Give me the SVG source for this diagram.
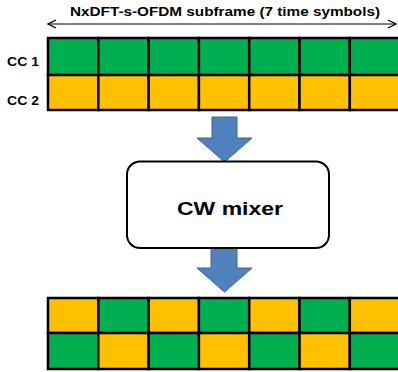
<svg xmlns="http://www.w3.org/2000/svg" width="398" height="372" viewBox="0 0 398 372">
<style>
.g{fill:#00B050;stroke:#000;stroke-width:2.5}
.y{fill:#FFC000;stroke:#000;stroke-width:2.5}
.lbl{font-family:"Liberation Sans",Arial,sans-serif;font-weight:bold;fill:#000}
.barrow{fill:#4F81BD;stroke:#3A6597;stroke-width:1}
</style>
<defs>
<marker id="open" viewBox="0 0 10 10" refX="9" refY="5" markerWidth="10" markerHeight="10" markerUnits="userSpaceOnUse" orient="auto-start-reverse">
<path d="M1,1 L9,5 L1,9" fill="none" stroke="#000" stroke-width="1.2"/>
</marker>
</defs>
<rect width="398" height="372" fill="#fff"/>
<g id="title">
<text class="lbl" x="70" y="16" font-size="13" textLength="310" lengthAdjust="spacingAndGlyphs">NxDFT-s-OFDM subframe (7 time symbols)</text>
<line x1="48" y1="24" x2="396" y2="24" stroke="#000" stroke-width="1" marker-start="url(#open)" marker-end="url(#open)"/>
</g>
<g id="cc1">
<text class="lbl" x="7" y="66" font-size="13" textLength="32" lengthAdjust="spacingAndGlyphs">CC 1</text>
<rect class="g" x="48" y="38" width="50.3" height="37"/>
<rect class="g" x="98.3" y="38" width="50.3" height="37"/>
<rect class="g" x="148.6" y="38" width="50.3" height="37"/>
<rect class="g" x="198.9" y="38" width="50.3" height="37"/>
<rect class="g" x="249.2" y="38" width="50.3" height="37"/>
<rect class="g" x="299.5" y="38" width="50.3" height="37"/>
<rect class="g" x="349.8" y="38" width="50.3" height="37"/>
</g>
<g id="cc2">
<text class="lbl" x="7" y="105" font-size="13" textLength="32" lengthAdjust="spacingAndGlyphs">CC 2</text>
<rect class="y" x="48" y="75" width="50.3" height="35"/>
<rect class="y" x="98.3" y="75" width="50.3" height="35"/>
<rect class="y" x="148.6" y="75" width="50.3" height="35"/>
<rect class="y" x="198.9" y="75" width="50.3" height="35"/>
<rect class="y" x="249.2" y="75" width="50.3" height="35"/>
<rect class="y" x="299.5" y="75" width="50.3" height="35"/>
<rect class="y" x="349.8" y="75" width="50.3" height="35"/>
</g>
<g id="connectors">
<path class="barrow" d="M212,117 H237 V138 H252 L224.5,162 L197,138 H212 Z"/>
<path class="barrow" d="M211,248 H237 V268 H252 L224.5,292 L197,268 H211 Z"/>
</g>
<g id="mixer">
<rect x="127" y="161.5" width="202" height="86.5" rx="13" fill="#fff" stroke="#000" stroke-width="2"/>
<text class="lbl" x="177" y="215" font-size="18" textLength="106" lengthAdjust="spacingAndGlyphs">CW mixer</text>
</g>
<g id="out1">
<rect class="y" x="48" y="298" width="50.3" height="35"/>
<rect class="g" x="98.3" y="298" width="50.3" height="35"/>
<rect class="y" x="148.6" y="298" width="50.3" height="35"/>
<rect class="g" x="198.9" y="298" width="50.3" height="35"/>
<rect class="y" x="249.2" y="298" width="50.3" height="35"/>
<rect class="g" x="299.5" y="298" width="50.3" height="35"/>
<rect class="y" x="349.8" y="298" width="50.3" height="35"/>
</g>
<g id="out2">
<rect class="g" x="48" y="333" width="50.3" height="36"/>
<rect class="y" x="98.3" y="333" width="50.3" height="36"/>
<rect class="g" x="148.6" y="333" width="50.3" height="36"/>
<rect class="y" x="198.9" y="333" width="50.3" height="36"/>
<rect class="g" x="249.2" y="333" width="50.3" height="36"/>
<rect class="y" x="299.5" y="333" width="50.3" height="36"/>
<rect class="g" x="349.8" y="333" width="50.3" height="36"/>
</g>
</svg>
